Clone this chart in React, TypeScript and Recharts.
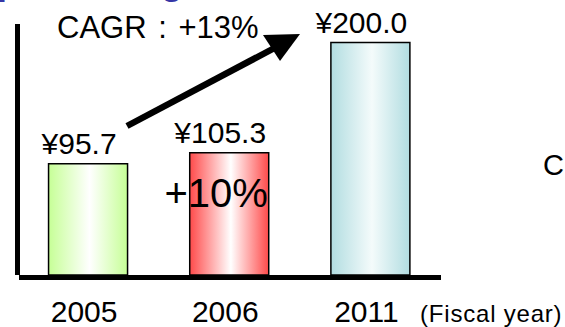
import React from 'react';
import { BarChart, Bar, XAxis, YAxis, Cell, LabelList, ReferenceLine } from 'recharts';

const years = ['2005', '2006', '2011'];
const sales = [95.7, 105.3, 200.0];
const growth = ['', '+10%', ''];
const edgeColors = ['#c6ff96', '#ff4a4a', '#b2dde1'];
const midColors = ['#ffffff', '#ffffff', '#f4fbfb'];

const data = years.map((year, i) => ({ year, sales: sales[i], growth: growth[i] }));

const FONT = '"Liberation Sans", Arial, sans-serif';

const GrowthLabel = (props: any) => {
  const { x, y, width, value } = props;
  if (!value) return null;
  return (
    <text x={x + width / 2 - 13} y={y + 54} textAnchor="middle" fontSize={40} fill="#000" fontFamily={FONT}>
      {value}
    </text>
  );
};

const BaseLine = (props: any) => {
  const { x1, x2, y1 } = props;
  return <line x1={x1 + 1.5} x2={x2} y1={y1 + 2.5} y2={y1 + 2.5} stroke="#000" strokeWidth={5} />;
};

export default function App() {
  return (
    <div style={{ position: 'relative', width: 565, height: 327, fontFamily: FONT, background: '#fff' }}>
      <style>{`body{margin:0}`}</style>
      <BarChart
        width={565}
        height={327}
        data={data}
        margin={{ top: 24, right: 124, left: 16.5, bottom: 0 }}
        barCategoryGap="22%"
      >
        <defs>
          {years.map((y, i) => (
            <linearGradient key={y} id={`grad${y}`} x1="0" y1="0" x2="1" y2="0">
              <stop offset="0%" stopColor={edgeColors[i]} />
              <stop offset="52%" stopColor={midColors[i]} />
              <stop offset="100%" stopColor={edgeColors[i]} />
            </linearGradient>
          ))}
        </defs>
        <XAxis
          dataKey="year"
          axisLine={false}
          tickLine={false}
          tickSize={6}
          tickMargin={20}
          height={52}
          interval={0}
          tick={{ fill: '#000', fontSize: 30, fontFamily: FONT, dx: -4 }}
        />
        <YAxis
          width={1}
          domain={[0, 216]}
          tick={false}
          tickLine={false}
          axisLine={{ stroke: '#000', strokeWidth: 5 }}
        />
        <Bar dataKey="sales" isAnimationActive={false} stroke="#000" strokeWidth={1.5}>
          {data.map((d) => (
            <Cell key={d.year} fill={`url(#grad${d.year})`} />
          ))}
          <LabelList
            dataKey="sales"
            position="top"
            offset={10}
            dx={-9}
            formatter={(v: any) => `¥${Number(v).toFixed(1)}`}
            style={{ fill: '#000', fontSize: 30, fontFamily: FONT }}
          />
          <LabelList dataKey="growth" content={GrowthLabel} />
        </Bar>
        <ReferenceLine y={0} stroke="#000" strokeWidth={5} shape={BaseLine} />
      </BarChart>
      <svg
        width={565}
        height={327}
        style={{ position: 'absolute', left: 0, top: 0, pointerEvents: 'none' }}
      >
        <text x={-3} y={-6} fontSize={36} fontWeight="bold" fill="#3636a6" fontFamily={FONT}>p</text>
        <text x={161} y={-6} fontSize={36} fontWeight="bold" fill="#3636a6" fontFamily={FONT}>g</text>
        <text x={57} y={38} fontSize={31} fill="#000" fontFamily={FONT} style={{ wordSpacing: 3 }}>CAGR : +13%</text>
        <line x1={127} y1={126} x2={282} y2={44} stroke="#000" strokeWidth={6.5} />
        <polygon points="263,35 300,34 280,61" fill="#000" />
        <text x={543} y={175} fontSize={29} fill="#000" fontFamily={FONT}>C</text>
        <text x={420} y={322} fontSize={24} fill="#000" fontFamily={FONT} style={{ letterSpacing: 0.8 }}>(Fiscal year)</text>
      </svg>
    </div>
  );
}
